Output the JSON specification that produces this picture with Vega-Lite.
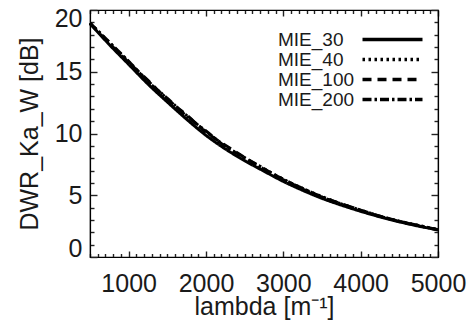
{
  "$schema": "https://vega.github.io/schema/vega-lite/v6.json",
  "width": 348,
  "height": 247,
  "autosize": {"type": "none"},
  "padding": {"left": 90, "top": 10, "right": 32, "bottom": 65},
  "background": "white",
  "config": {
    "font": "Liberation Sans",
    "view": {"stroke": "black", "strokeWidth": 1.2},
    "legend": {
      "labelFont": "Liberation Sans",
      "labelFontSize": 19,
      "labelColor": "#1a1a1a"
    }
  },
  "data": {
    "values": [
      {"lambda": 500, "dwr": 18.9, "model": "MIE_30"},
      {"lambda": 750, "dwr": 17.2, "model": "MIE_30"},
      {"lambda": 1000, "dwr": 15.6, "model": "MIE_30"},
      {"lambda": 1250, "dwr": 14.0, "model": "MIE_30"},
      {"lambda": 1500, "dwr": 12.55, "model": "MIE_30"},
      {"lambda": 1750, "dwr": 11.15, "model": "MIE_30"},
      {"lambda": 2000, "dwr": 9.85, "model": "MIE_30"},
      {"lambda": 2250, "dwr": 8.75, "model": "MIE_30"},
      {"lambda": 2500, "dwr": 7.8, "model": "MIE_30"},
      {"lambda": 2750, "dwr": 6.95, "model": "MIE_30"},
      {"lambda": 3000, "dwr": 6.12, "model": "MIE_30"},
      {"lambda": 3250, "dwr": 5.4, "model": "MIE_30"},
      {"lambda": 3500, "dwr": 4.75, "model": "MIE_30"},
      {"lambda": 3750, "dwr": 4.2, "model": "MIE_30"},
      {"lambda": 4000, "dwr": 3.7, "model": "MIE_30"},
      {"lambda": 4250, "dwr": 3.25, "model": "MIE_30"},
      {"lambda": 4500, "dwr": 2.85, "model": "MIE_30"},
      {"lambda": 4750, "dwr": 2.5, "model": "MIE_30"},
      {"lambda": 5000, "dwr": 2.2, "model": "MIE_30"},
      {"lambda": 500, "dwr": 18.95, "model": "MIE_40"},
      {"lambda": 750, "dwr": 17.35, "model": "MIE_40"},
      {"lambda": 1000, "dwr": 15.8, "model": "MIE_40"},
      {"lambda": 1250, "dwr": 14.25, "model": "MIE_40"},
      {"lambda": 1500, "dwr": 12.8, "model": "MIE_40"},
      {"lambda": 1750, "dwr": 11.45, "model": "MIE_40"},
      {"lambda": 2000, "dwr": 10.15, "model": "MIE_40"},
      {"lambda": 2250, "dwr": 9.0, "model": "MIE_40"},
      {"lambda": 2500, "dwr": 8.0, "model": "MIE_40"},
      {"lambda": 2750, "dwr": 7.15, "model": "MIE_40"},
      {"lambda": 3000, "dwr": 6.3, "model": "MIE_40"},
      {"lambda": 3250, "dwr": 5.55, "model": "MIE_40"},
      {"lambda": 3500, "dwr": 4.9, "model": "MIE_40"},
      {"lambda": 3750, "dwr": 4.3, "model": "MIE_40"},
      {"lambda": 4000, "dwr": 3.8, "model": "MIE_40"},
      {"lambda": 4250, "dwr": 3.3, "model": "MIE_40"},
      {"lambda": 4500, "dwr": 2.9, "model": "MIE_40"},
      {"lambda": 4750, "dwr": 2.55, "model": "MIE_40"},
      {"lambda": 5000, "dwr": 2.22, "model": "MIE_40"},
      {"lambda": 500, "dwr": 18.9, "model": "MIE_100"},
      {"lambda": 750, "dwr": 17.3, "model": "MIE_100"},
      {"lambda": 1000, "dwr": 15.75, "model": "MIE_100"},
      {"lambda": 1250, "dwr": 14.3, "model": "MIE_100"},
      {"lambda": 1500, "dwr": 12.75, "model": "MIE_100"},
      {"lambda": 1750, "dwr": 11.5, "model": "MIE_100"},
      {"lambda": 2000, "dwr": 10.1, "model": "MIE_100"},
      {"lambda": 2250, "dwr": 9.05, "model": "MIE_100"},
      {"lambda": 2500, "dwr": 8.05, "model": "MIE_100"},
      {"lambda": 2750, "dwr": 7.1, "model": "MIE_100"},
      {"lambda": 3000, "dwr": 6.3, "model": "MIE_100"},
      {"lambda": 3250, "dwr": 5.5, "model": "MIE_100"},
      {"lambda": 3500, "dwr": 4.85, "model": "MIE_100"},
      {"lambda": 3750, "dwr": 4.3, "model": "MIE_100"},
      {"lambda": 4000, "dwr": 3.75, "model": "MIE_100"},
      {"lambda": 4250, "dwr": 3.3, "model": "MIE_100"},
      {"lambda": 4500, "dwr": 2.9, "model": "MIE_100"},
      {"lambda": 4750, "dwr": 2.52, "model": "MIE_100"},
      {"lambda": 5000, "dwr": 2.2, "model": "MIE_100"},
      {"lambda": 500, "dwr": 18.95, "model": "MIE_200"},
      {"lambda": 750, "dwr": 17.4, "model": "MIE_200"},
      {"lambda": 1000, "dwr": 15.85, "model": "MIE_200"},
      {"lambda": 1250, "dwr": 14.2, "model": "MIE_200"},
      {"lambda": 1500, "dwr": 12.85, "model": "MIE_200"},
      {"lambda": 1750, "dwr": 11.4, "model": "MIE_200"},
      {"lambda": 2000, "dwr": 10.2, "model": "MIE_200"},
      {"lambda": 2250, "dwr": 8.95, "model": "MIE_200"},
      {"lambda": 2500, "dwr": 8.05, "model": "MIE_200"},
      {"lambda": 2750, "dwr": 7.15, "model": "MIE_200"},
      {"lambda": 3000, "dwr": 6.25, "model": "MIE_200"},
      {"lambda": 3250, "dwr": 5.55, "model": "MIE_200"},
      {"lambda": 3500, "dwr": 4.85, "model": "MIE_200"},
      {"lambda": 3750, "dwr": 4.3, "model": "MIE_200"},
      {"lambda": 4000, "dwr": 3.8, "model": "MIE_200"},
      {"lambda": 4250, "dwr": 3.3, "model": "MIE_200"},
      {"lambda": 4500, "dwr": 2.88, "model": "MIE_200"},
      {"lambda": 4750, "dwr": 2.55, "model": "MIE_200"},
      {"lambda": 5000, "dwr": 2.21, "model": "MIE_200"}
    ]
  },
  "layer": [
    {
      "mark": {"type": "line", "stroke": "black", "strokeWidth": 3, "interpolate": "monotone"},
      "encoding": {
        "x": {
          "field": "lambda", "type": "quantitative",
          "scale": {"domain": [500, 5000], "nice": false, "zero": false},
          "axis": {
            "orient": "bottom",
            "title": "lambda [m⁻¹]",
            "format": "d",
            "grid": false,
            "tickColor": "#222",
            "tickWidth": 1.4,
            "domainColor": "black",
            "domainWidth": 1.2,
            "labelFont": "Liberation Sans",
            "titleFont": "Liberation Sans",
            "labelFontSize": 25,
            "titleFontSize": 25,
            "titleFontWeight": "normal",
            "labelColor": "#1a1a1a",
            "titleColor": "#1a1a1a",
            "values": [500,600,700,800,900,1000,1100,1200,1300,1400,1500,1600,1700,1800,1900,2000,2100,2200,2300,2400,2500,2600,2700,2800,2900,3000,3100,3200,3300,3400,3500,3600,3700,3800,3900,4000,4100,4200,4300,4400,4500,4600,4700,4800,4900,5000],
            "labelExpr": "datum.value % 1000 === 0 ? datum.label : ''",
            "labelOverlap": false,
            "labelFlush": false,
            "tickSize": {"condition": {"test": "datum.value % 1000 === 0", "value": -6}, "value": -3.5},
            "labelPadding": 20,
            "titlePadding": -4
          }
        },
        "y": {
          "field": "dwr", "type": "quantitative",
          "scale": {"domain": [0, 20], "nice": false},
          "axis": {
            "orient": "left",
            "title": "DWR_Ka_W [dB]",
            "grid": false,
            "tickColor": "#222",
            "tickWidth": 1.4,
            "domainColor": "black",
            "domainWidth": 1.2,
            "labelFont": "Liberation Sans",
            "titleFont": "Liberation Sans",
            "labelFontSize": 25,
            "titleFontSize": 25,
            "titleFontWeight": "normal",
            "labelColor": "#1a1a1a",
            "titleColor": "#1a1a1a",
            "values": [0,1,2,3,4,5,6,7,8,9,10,11,12,13,14,15,16,17,18,19,20],
            "labelExpr": "datum.value % 5 === 0 ? datum.label : ''",
            "labelOverlap": false,
            "labelFlush": true,
            "labelFlushOffset": 4,
            "tickSize": {"condition": {"test": "datum.value % 5 === 0", "value": -7}, "value": -4},
            "labelPadding": 15,
            "titlePadding": 12
          }
        },
        "strokeDash": {
          "field": "model", "type": "nominal",
          "scale": {
            "domain": ["MIE_30", "MIE_40", "MIE_100", "MIE_200"],
            "range": [[1, 0], [2.5, 3.5], [9, 6], [9, 3, 2.5, 3]]
          },
          "legend": {
            "title": null,
            "orient": "none",
            "legendX": 293,
            "legendY": 20,
            "symbolType": "M-6,0H6",
            "symbolSize": 100,
            "symbolStrokeWidth": 3.5,
            "symbolStrokeColor": "black",
            "labelAlign": "left",
            "labelOffset": -124,
            "rowPadding": -3
          }
        }
      }
    },
    {
      "mark": {"type": "line", "strokeOpacity": 0},
      "encoding": {
        "x": {
          "field": "lambda", "type": "quantitative",
          "scale": {"domain": [500, 5000], "nice": false, "zero": false},
          "axis": {
            "orient": "top",
            "title": null,
            "labels": false,
            "grid": false,
            "tickColor": "#222",
            "tickWidth": 1.4,
            "domainColor": "black",
            "domainWidth": 1.2,
            "values": [500,600,700,800,900,1000,1100,1200,1300,1400,1500,1600,1700,1800,1900,2000,2100,2200,2300,2400,2500,2600,2700,2800,2900,3000,3100,3200,3300,3400,3500,3600,3700,3800,3900,4000,4100,4200,4300,4400,4500,4600,4700,4800,4900,5000],
            "tickSize": {"condition": {"test": "datum.value % 1000 === 0", "value": -6}, "value": -3.5}
          }
        },
        "y": {
          "field": "dwr", "type": "quantitative",
          "scale": {"domain": [0, 20], "nice": false},
          "axis": {
            "orient": "right",
            "title": null,
            "labels": false,
            "grid": false,
            "tickColor": "#222",
            "tickWidth": 1.4,
            "domainColor": "black",
            "domainWidth": 1.2,
            "values": [0,1,2,3,4,5,6,7,8,9,10,11,12,13,14,15,16,17,18,19,20],
            "tickSize": {"condition": {"test": "datum.value % 5 === 0", "value": -7}, "value": -4}
          }
        },
        "detail": {"field": "model", "type": "nominal"}
      }
    }
  ],
  "resolve": {"axis": {"x": "independent", "y": "independent"}}
}
